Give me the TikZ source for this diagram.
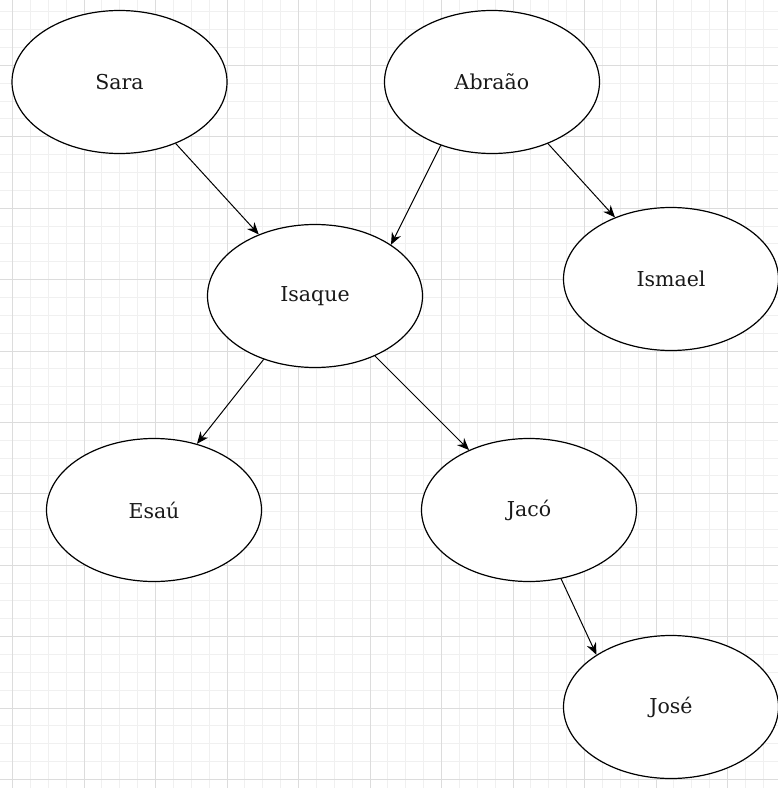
\documentclass[tikz,border=0pt]{standalone}
\usepackage{fontspec}
\setmainfont{DejaVu Serif}
\usetikzlibrary{positioning,shapes.geometric,arrows.meta}
\definecolor{gridminor}{HTML}{F0F0F0}
\definecolor{gridmajor}{HTML}{DCDCDC}

\begin{document}
\begin{tikzpicture}[x = 1bp, y = -1bp,
                    -{Stealth[length = 12bp, width = 10bp]},
                    line width = 1bp,
                    person/.style = {ellipse,
                                     draw,
                                     black,
                                     fill = white,
                                     text = black!90,
                                     line width = 1.2bp,
                                     minimum width = 215bp,
                                     minimum height = 143bp,
                                     inner sep = 0pt,
                                     font = \fontsize{20.5bp}{24bp}\selectfont},
                    minorline/.style = {-, gridminor, line width = 1bp},
                    majorline/.style = {-, gridmajor, line width = 1bp}]

\useasboundingbox (0,0) rectangle (778,788);

% grid
\foreach \k [evaluate = \k as \gx using {round(12+17.875*\k)+0.5},
             evaluate = \k as \gy using {round(-6.5+17.85*\k)+0.5}] in {-1,...,44} {
  \draw[minorline] (\gx,0) -- ++(0,788);
  \draw[minorline] (0,\gy) -- ++(778,0);
}
\foreach \k [evaluate = \k as \gx using {round(12+17.875*4*\k)+0.5},
             evaluate = \k as \gy using {round(-6.5+17.85*4*\k)+0.5}] in {0,...,11} {
  \draw[majorline] (\gx,0) -- ++(0,788);
  \draw[majorline] (0,\gy) -- ++(778,0);
}

\node[person] (sara)   at (119.5,82) {Sara};
\node[person] (abraao) at (492,82)   {Abraão};
\node[person] (isaque) at (315,296)  {Isaque};
\node[person] (ismael) at (671,279)  {Ismael};
\node[person] (esau)   at (154,510)  {Esaú};
\node[person] (jaco)   at (529,510)  {Jacó};
\node[person] (jose)   at (671,707)  {José};

\path (sara) edge (isaque);
\path (abraao.231) edge (isaque.34);
\path (abraao) edge (ismael);
\path (isaque.231) edge (esau.57);
\path (isaque) edge (jaco);
\path (jaco.295) edge (jose.145);

\end{tikzpicture}
\end{document}
